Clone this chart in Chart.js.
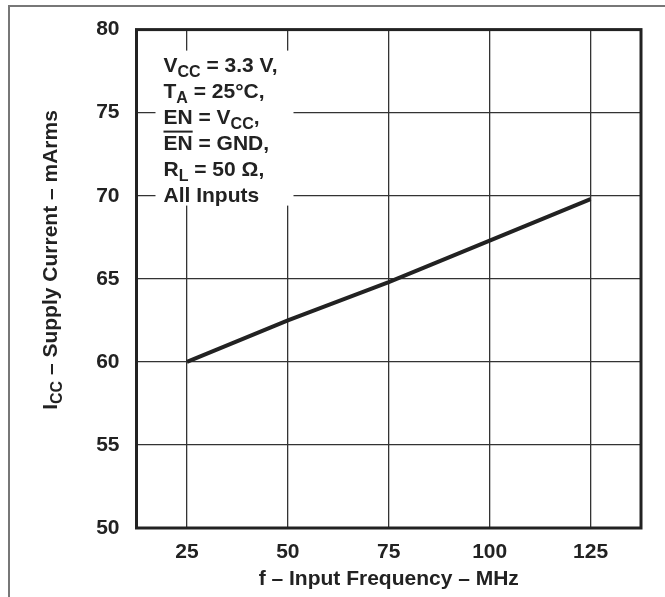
<!DOCTYPE html>
<html>
<head>
<meta charset="utf-8">
<script src="https://cdn.jsdelivr.net/npm/chart.js@4/dist/chart.umd.min.js"></script>
<style>
  html, body { margin: 0; padding: 0; background: #fff; }
  #wrap { position: relative; width: 665px; height: 597px; }
  #frame { position: absolute; left: 8px; top: 5px; right: 0; bottom: 0;
           border-top: 2px solid #777; border-left: 2px solid #777; }
  #chart { position: absolute; left: 0; top: 0; }
</style>
</head>
<body>
<div id="wrap">
  <div id="frame"></div>
  <canvas id="chart" width="665" height="597"></canvas>
</div>
<script>
// values
const freqMHz = [25, 50, 75, 100, 125];
const supplyCurrent = [60.0, 62.5, 64.8, 67.3, 69.8];
const xTickValues = [25, 50, 75, 100, 125];

const FONT = '"Liberation Sans", Arial, Helvetica, sans-serif';
const INK = '#222';

// text runs: sub = subscript, over = overline
const noteLines = [
    [{ t: 'V' }, { t: 'CC', sub: true }, { t: ' = 3.3 V,' }],
    [{ t: 'T' }, { t: 'A', sub: true }, { t: ' = 25°C,' }],
    [{ t: 'EN = V' }, { t: 'CC', sub: true }, { t: ',' }],
    [{ t: 'EN', over: true }, { t: ' = GND,' }],
    [{ t: 'R' }, { t: 'L', sub: true }, { t: ' = 50 Ω,' }],
    [{ t: 'All Inputs' }]
];
const yTitleRuns = [{ t: 'I' }, { t: 'CC', sub: true }, { t: ' – Supply Current – mArms' }];

function runsWidth(ctx, runs) {
    let w = 0;
    runs.forEach(r => {
        ctx.font = r.sub ? `bold 16px ${FONT}` : `bold 21px ${FONT}`;
        w += ctx.measureText(r.t).width;
    });
    return w;
}

function drawRuns(ctx, runs, x, y) {
    ctx.textBaseline = 'alphabetic';
    ctx.textAlign = 'left';
    ctx.fillStyle = INK;
    runs.forEach(r => {
        ctx.font = r.sub ? `bold 16px ${FONT}` : `bold 21px ${FONT}`;
        const w = ctx.measureText(r.t).width;
        ctx.fillText(r.t, x, r.sub ? y + 5 : y);
        if (r.over) {
            ctx.strokeStyle = INK;
            ctx.lineWidth = 2;
            ctx.beginPath();
            ctx.moveTo(x, y - 18);
            ctx.lineTo(x + w, y - 18);
            ctx.stroke();
        }
        x += w;
    });
}

const decorPlugin = {
    id: 'decor',
    beforeDatasetsDraw(chart) {
        const { ctx, chartArea } = chart;
        ctx.save();
        // white note box over the grid
        ctx.fillStyle = '#fff';
        ctx.fillRect(chartArea.left + 19, chartArea.top + 21, 138, 155);
        noteLines.forEach((line, i) => {
            drawRuns(ctx, line, chartArea.left + 27, chartArea.top + 42 + i * 26);
        });
        ctx.restore();
    },
    afterDraw(chart) {
        const { ctx, chartArea } = chart;
        ctx.save();
        ctx.strokeStyle = INK;
        ctx.lineWidth = 3;
        ctx.strokeRect(chartArea.left, chartArea.top,
            chartArea.right - chartArea.left, chartArea.bottom - chartArea.top);

        // rotated y title with subscript
        const w = runsWidth(ctx, yTitleRuns);
        ctx.translate(57, 260);
        ctx.rotate(-Math.PI / 2);
        drawRuns(ctx, yTitleRuns, -w / 2, 0);
        ctx.restore();
    }
};

const ctx = document.getElementById('chart').getContext('2d');
new Chart(ctx, {
    type: 'line',
    data: {
        datasets: [{
            data: freqMHz.map((f, i) => ({ x: f, y: supplyCurrent[i] })),
            borderColor: INK,
            borderWidth: 4,
            pointRadius: 0,
            tension: 0,
            fill: false
        }]
    },
    options: {
        responsive: false,
        animation: false,
        devicePixelRatio: 1,
        layout: { padding: { left: 0, top: 24, right: 24, bottom: 0 } },
        plugins: { legend: { display: false }, tooltip: { enabled: false } },
        scales: {
            x: {
                type: 'linear',
                min: 12.5,
                max: 137.5,
                afterBuildTicks: axis => { axis.ticks = xTickValues.map(v => ({ value: v })); },
                afterFit: axis => { axis.height = 69; },
                grid: { color: '#333', lineWidth: 1.3, drawTicks: false },
                border: { display: false },
                ticks: {
                    padding: 12,
                    color: INK,
                    font: { family: FONT, size: 21, weight: 'bold' }
                },
                title: {
                    display: true,
                    text: 'f – Input Frequency – MHz',
                    color: INK,
                    padding: { top: 0, bottom: 5 },
                    font: { family: FONT, size: 21, weight: 'bold' }
                }
            },
            y: {
                min: 50,
                max: 80,
                ticks: {
                    stepSize: 5,
                    padding: 17,
                    color: INK,
                    font: { family: FONT, size: 21, weight: 'bold' }
                },
                afterFit: axis => { axis.width = 136.5; },
                grid: { color: '#333', lineWidth: 1.3, drawTicks: false },
                border: { display: false }
            }
        }
    },
    plugins: [decorPlugin]
});
</script>
</body>
</html>
